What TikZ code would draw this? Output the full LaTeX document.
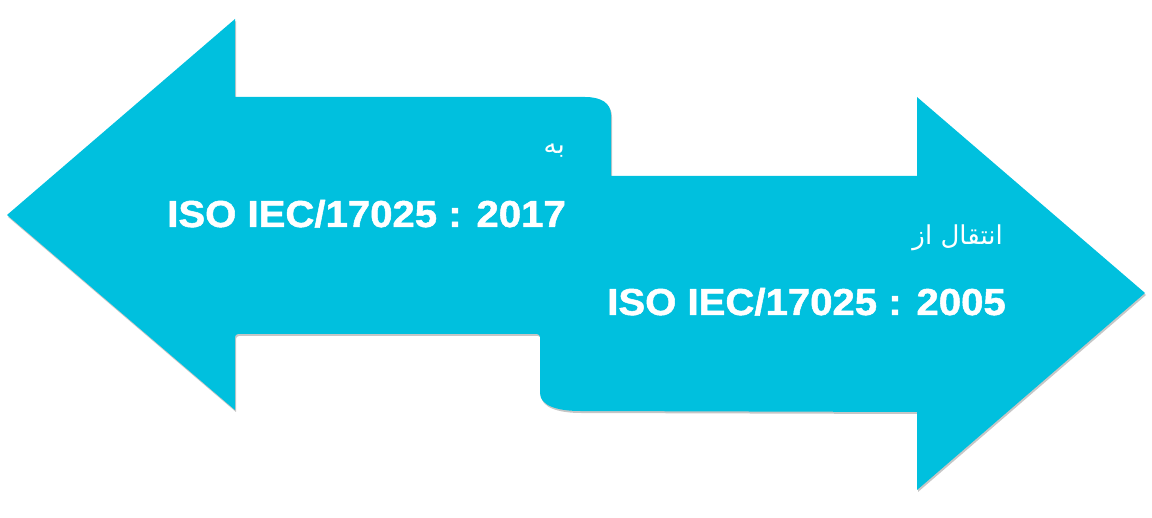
\documentclass[tikz,border=0pt]{standalone}
\usepackage{fontspec}
\setmainfont{Liberation Sans}
\newfontfamily\arabicfont[Script=Arabic]{DejaVu Sans}
\TeXXeTstate=1
\definecolor{arrowcyan}{RGB}{0,192,222}
\newcommand{\isowide}[1]{\scalebox{1.07}[1]{#1}}
\begin{document}
\begin{tikzpicture}[x=1pt,y=-1pt,
  isotext/.style={text=white,inner sep=0pt,
    font=\fontsize{37.5}{40}\selectfont\bfseries\addfontfeature{FakeBold=1.3}},
  artext/.style={text=white,inner sep=0pt,font=\fontsize{26}{30}\selectfont\arabicfont},
  shape fill/.style={fill=arrowcyan,
    preaction={fill=gray!45,transform canvas={shift={(1pt,-2pt)}}}}]
\useasboundingbox (0,0) rectangle (1152,518);
% combined double arrow
\fill[shape fill]
  (7,215) -- (235,19) -- (235,97) -- (585,97)
  .. controls (601,97) and (611,103) .. (611,115)
  -- (611,176) -- (917,176) -- (917,97) -- (1145,293) -- (917,490)
  -- (917,412) -- (580,411)
  .. controls (556,411) and (540,405) .. (540,393)
  [rounded corners=3pt] -- (540,334) -- (235,334) [sharp corners] -- (235,410) -- cycle;
% texts
\node[artext,anchor=base east] (toar) at (565,154) {\beginR به\endR};
\node[isotext,anchor=base east] (iso2017) at (566,227) {\isowide{ISO IEC/17025 : 2017}};
\node[artext,anchor=base east] (fromar) at (1003,245) {\beginR انتقال از\endR};
\node[isotext,anchor=base east] (iso2005) at (1006,315) {\isowide{ISO IEC/17025 : 2005}};
\end{tikzpicture}
\end{document}
